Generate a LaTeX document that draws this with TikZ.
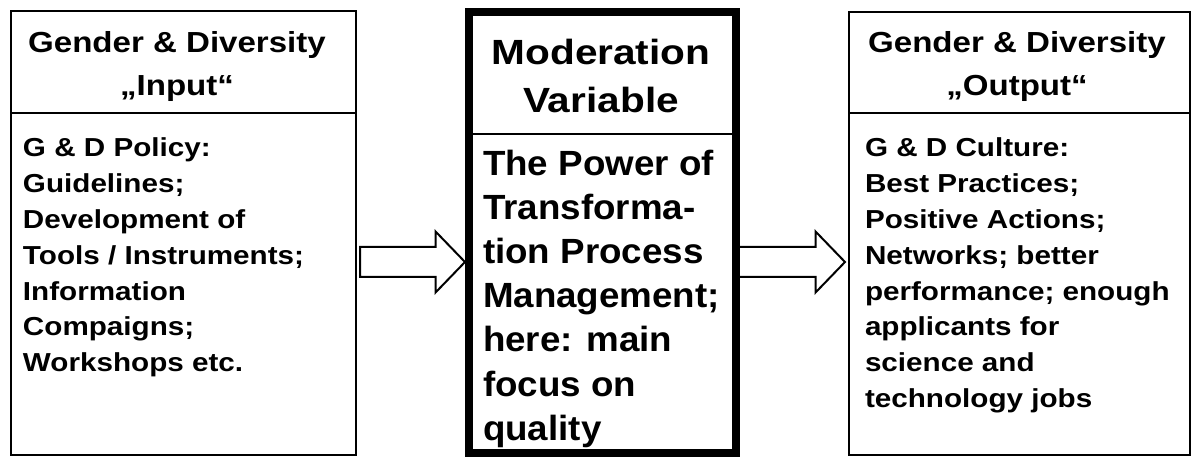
\documentclass[tikz,border=0pt]{standalone}
\usepackage{fontspec}
\setmainfont{Liberation Sans}
\newfontfamily\headfont{Liberation Sans}[FakeStretch=1.14]
\newfontfamily\modheadfont{Liberation Sans}[FakeStretch=1.16]
\newfontfamily\modbodyfont{Liberation Sans}[FakeStretch=1.05]
\newfontfamily\bodyfont{Liberation Sans}[FakeStretch=1.14]
\usetikzlibrary{shapes.arrows}
\begin{document}
\begin{tikzpicture}[x=1pt,y=-1pt,
  panel/.style={draw, line width=2pt, inner sep=0pt, outer sep=0pt, anchor=north west},
  modpanel/.style={panel, line width=8pt},
  blockarrow/.style={single arrow, draw, line width=2pt, fill=white,
    inner xsep=0pt, inner ysep=14pt, outer sep=0pt,
    single arrow head extend=15.5pt, single arrow tip angle=92, anchor=tail},
  headtxt/.style={inner sep=0pt, outer sep=0pt, align=center, anchor=north,
    font=\headfont\bfseries\fontsize{29}{43}\selectfont},
  modheadtxt/.style={inner sep=0pt, outer sep=0pt, align=center, anchor=north,
    font=\modheadfont\bfseries\fontsize{35}{48}\selectfont},
  bodytxt/.style={inner sep=0pt, outer sep=0pt, align=left, anchor=north west,
    font=\bodyfont\bfseries\fontsize{26}{35.8}\selectfont},
  modbodytxt/.style={inner sep=0pt, outer sep=0pt, align=left, anchor=north west,
    font=\modbodyfont\bfseries\fontsize{35}{44.2}\selectfont}]
\useasboundingbox (0,0) rectangle (1192,457);

% block arrows between the three panels
\node[blockarrow, minimum height=105pt] (arrIn) at (360,262) {};
\node[blockarrow, minimum height=109pt] (arrOut) at (736,262) {};

% panels
\node[panel, minimum width=345pt, minimum height=444pt] (inbox) at (11,11) {};
\node[modpanel, minimum width=267pt, minimum height=441pt] (modbox) at (469,12) {};
\node[panel, minimum width=341pt, minimum height=443pt] (outbox) at (849,12) {};

% header separators
\coordinate (sepIn) at (0,113);
\coordinate (sepMod) at (0,134);
\draw[line width=2pt] (inbox.west |- sepIn) -- (inbox.east |- sepIn);
\draw[line width=2pt] (modbox.west |- sepMod) -- (modbox.east |- sepMod);
\draw[line width=2pt] (outbox.west |- sepIn) -- (outbox.east |- sepIn);

% headers
\node[headtxt] (inhead) at (177,22.9) {\strut Gender \& Diversity\\„Input“};
\node[modheadtxt] (modhead) at (601,31.4) {\strut Moderation\\Variable};
\node[headtxt] (outhead) at (1017,22.9) {\strut Gender \& Diversity\\„Output“};

% panel contents
\node[bodytxt] (inbody) at (23,131.9) {\strut G \& D Policy:\\Guidelines;\\Development of\\Tools / Instruments;\\Information\\Compaigns;\\Workshops etc.};
\node[modbodytxt] (modbody) at (483,144.1) {\strut The Power of\\Transforma-\\tion Process\\Management;\\here: main\\focus on\\quality};
\node[bodytxt] (outbody) at (865,131.9) {\strut G \& D Culture:\\Best Practices;\\Positive Actions;\\Networks; better\\performance; enough\\applicants for\\science and\\technology jobs};
\end{tikzpicture}
\end{document}
